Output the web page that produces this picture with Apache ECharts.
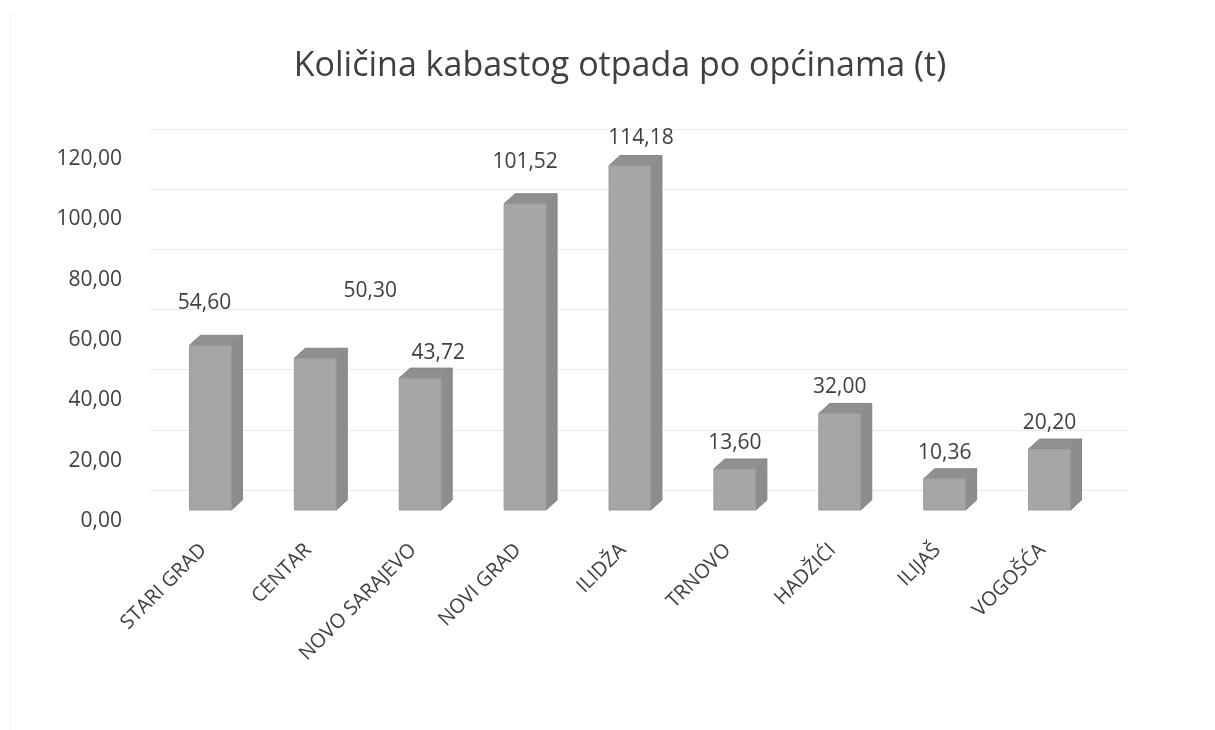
<!DOCTYPE html>
<html>
<head>
<meta charset="utf-8">
<script src="https://cdn.jsdelivr.net/npm/echarts@6/dist/echarts.min.js"></script>
<style>
  html, body { margin: 0; padding: 0; background: #fff; }
  #chart { width: 1215px; height: 730px; }
</style>
</head>
<body>
<div id="chart"></div>
<script>
var categories = ['STARI GRAD', 'CENTAR', 'NOVO SARAJEVO', 'NOVI GRAD', 'ILIDŽA', 'TRNOVO', 'HADŽIĆI', 'ILIJAŠ', 'VOGOŠĆA'];
var values = [54.60, 50.30, 43.72, 101.52, 114.18, 13.60, 32.00, 10.36, 20.20];
var yTicks = [0, 20, 40, 60, 80, 100, 120];
var chartTitle = 'Količina kabastog otpada po općinama (t)';

// labels that Excel placed by hand, [dx, dy] from the default spot
var labelNudge = {
	'STARI GRAD': [-6, -16],
	'CENTAR': [55, -41],
	'NOVO SARAJEVO': [18, 1],
	'NOVI GRAD': [0, -16],
	'ILIDŽA': [11, -2]
};

var FONT = 'Open Sans';
var TXT = '#404040';
var DX = 11, DY = 10; // bar depth

function fmt(v) {
	return v.toFixed(2).replace('.', ',');
}

function renderBar(params, api) {
	var idx = api.value(0);
	var v = api.value(1);
	var topPt = api.coord([idx, v]);
	var basePt = api.coord([idx, 0]);
	var w = api.size([1, 0])[0] * 0.4;
	var l = topPt[0] - w / 2, r = topPt[0] + w / 2;
	var t = topPt[1], b = basePt[1];
	var nudge = labelNudge[categories[idx]] || [0, 0];
	return {
		type: 'group',
		children: [
			{ type: 'polygon', shape: { points: [[r, t], [r + DX, t - DY], [r + DX, b - DY], [r, b]] },
			  style: { fill: '#8d8d8d', stroke: '#858585', lineWidth: 1 } },
			{ type: 'polygon', shape: { points: [[l, t], [l + DX, t - DY], [r + DX, t - DY], [r, t]] },
			  style: { fill: '#909090', stroke: '#858585', lineWidth: 1 } },
			{ type: 'rect', shape: { x: l, y: t, width: w, height: b - t },
			  style: { fill: '#a6a6a6', stroke: '#999999', lineWidth: 1 } },
			{ type: 'text', x: topPt[0] + nudge[0], y: t - 26 + nudge[1],
			  style: { text: fmt(v), fill: TXT, font: '21px "' + FONT + '"', align: 'center', verticalAlign: 'middle' } }
		]
	};
}

var chart = echarts.init(document.getElementById('chart'));
var option = {
	backgroundColor: '#ffffff',
	animation: false,
	grid: [
		{ left: 158, right: 113, top: 148, bottom: 220 },
		{ left: 150, right: 88, top: 129, bottom: 240 }
	],
	xAxis: [
		{
			type: 'category',
			gridIndex: 0,
			data: categories,
			axisLine: { show: false },
			axisTick: { show: false },
			axisLabel: {
				rotate: 45,
				interval: 0,
				margin: 30,
				padding: [0, 10, 0, 0],
				fontFamily: FONT,
				fontSize: 20,
				color: TXT
			}
		},
		{ type: 'value', gridIndex: 1, show: false, min: 0, max: 1 }
	],
	yAxis: [
		{
			type: 'value',
			gridIndex: 0,
			min: yTicks[0],
			max: yTicks[yTicks.length - 1],
			interval: 20,
			axisLine: { show: false },
			axisTick: { show: false },
			splitLine: { show: false },
			axisLabel: {
				margin: 36,
				verticalAlign: 'top',
				lineHeight: 22,
				fontFamily: FONT,
				fontSize: 21,
				color: TXT,
				formatter: function (v) { return fmt(v); }
			}
		},
		{
			type: 'value',
			gridIndex: 1,
			min: yTicks[0],
			max: yTicks[yTicks.length - 1],
			interval: 20,
			axisLine: { show: false },
			axisTick: { show: false },
			axisLabel: { show: false },
			splitLine: { lineStyle: { color: '#e9e9e9', width: 1 } }
		}
	],
	graphic: [
		{ type: 'line', shape: { x1: 10, y1: 13, x2: 10, y2: 730 }, style: { stroke: '#eeeeee', lineWidth: 1 } },
		{ type: 'text', x: 620, y: 66,
		  style: { text: chartTitle, fill: TXT, font: '34px "' + FONT + '"', align: 'center', verticalAlign: 'middle' } }
	],
	series: [
		{
			type: 'custom',
			xAxisIndex: 0,
			yAxisIndex: 0,
			renderItem: renderBar,
			data: values.map(function (v, i) { return [i, v]; })
		}
	]
};
chart.setOption(option);
</script>
</body>
</html>
